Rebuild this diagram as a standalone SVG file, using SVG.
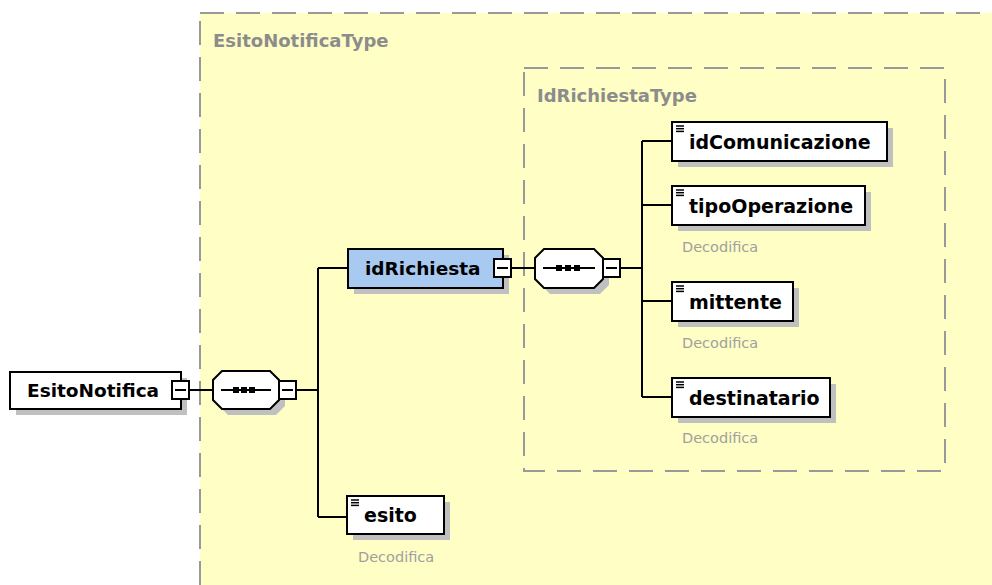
<svg xmlns="http://www.w3.org/2000/svg" width="992" height="585" viewBox="0 0 992 585">
<style>
.bg{fill:#ffffff}
.type{fill:#fffec4;stroke:#999999;stroke-width:2;stroke-dasharray:24 12}
.tlabel{font-family:"DejaVu Sans",sans-serif;font-weight:bold;font-size:18px;fill:#8c8c8c}
.shadow{fill:#c0c0c0}
.box{fill:#ffffff;stroke:#000000;stroke-width:2}
.boxsel{fill:#a8c9f0;stroke:#000000;stroke-width:2}
.name{font-family:"DejaVu Sans",sans-serif;font-weight:bold;font-size:18.5px;fill:#000000}
.cname{font-family:"DejaVu Sans",sans-serif;font-weight:bold;font-size:19px;fill:#000000}
.ann{font-family:"DejaVu Sans",sans-serif;font-size:14.5px;fill:#a0a0a0}
.line{fill:none;stroke:#000000;stroke-width:2}
.mbox{fill:#ffffff;stroke:#000000;stroke-width:2}
.mline{stroke:#000000;stroke-width:2}
.dot{fill:#000000}
.icon{stroke:#000000;stroke-width:1.5}
</style>
<defs>
<g id="leaficon">
<line class="icon" x1="0" y1="0" x2="8" y2="0"/>
<line class="icon" x1="0" y1="2.7" x2="8" y2="2.7"/>
<line class="icon" x1="0" y1="5.4" x2="8" y2="5.4"/>
</g>
</defs>
<rect class="bg" x="0" y="0" width="992" height="585"/>
<g id="EsitoNotificaType">
<rect class="type" x="200" y="13" width="820" height="600"/>
<text class="tlabel" x="213" y="47">EsitoNotificaType</text>
</g>
<g id="IdRichiestaType">
<rect class="type" x="524" y="68" width="421" height="403"/>
<text class="tlabel" x="537" y="102">IdRichiestaType</text>
</g>
<g id="connectors">
<line class="line" x1="189" y1="390" x2="213" y2="390"/>
<path class="line" d="M296,390 H318 M318,268 V517 M318,268 H348 M318,517 H347"/>
<line class="line" x1="511" y1="268" x2="535" y2="268"/>
<path class="line" d="M620,268 H642 M642,141 V397 M642,141 H672 M642,205 H672 M642,301 H672 M642,397 H672"/>
</g>
<g id="EsitoNotifica">
<rect class="shadow" x="16" y="378" width="171" height="37"/>
<rect class="box" x="10" y="372" width="171" height="37"/>
<text class="name" x="27" y="397">EsitoNotifica</text>
<rect class="mbox" x="172" y="381" width="17" height="18"/>
<line class="mline" x1="175" y1="390" x2="186" y2="390"/>
</g>
<g id="sequence1">
<path class="shadow" d="M228,377 L276,377 L285,386 L285,406 L276,415 L228,415 L219,406 L219,386 Z"/>
<path class="box" d="M222,371 L270,371 L279,380 L279,400 L270,409 L222,409 L213,400 L213,380 Z"/>
<line class="mline" x1="221" y1="390" x2="271" y2="390"/>
<rect class="dot" x="233" y="387" width="6" height="6"/>
<rect class="dot" x="241" y="387" width="6" height="6"/>
<rect class="dot" x="249" y="387" width="6" height="6"/>
<rect class="mbox" x="279" y="381" width="17" height="18"/>
<line class="mline" x1="282" y1="390" x2="293" y2="390"/>
</g>
<g id="idRichiesta">
<rect class="shadow" x="354" y="255" width="155" height="39"/>
<rect class="boxsel" x="348" y="249" width="155" height="39"/>
<text class="name" x="365" y="275">idRichiesta</text>
<rect class="mbox" x="494" y="259" width="17" height="18"/>
<line class="mline" x1="497" y1="268" x2="508" y2="268"/>
</g>
<g id="sequence2">
<path class="shadow" d="M550,255 L600,255 L609,264 L609,285 L600,294 L550,294 L541,285 L541,264 Z"/>
<path class="box" d="M544,249 L594,249 L603,258 L603,279 L594,288 L544,288 L535,279 L535,258 Z"/>
<line class="mline" x1="543" y1="268" x2="595" y2="268"/>
<rect class="dot" x="556" y="265" width="6" height="6"/>
<rect class="dot" x="565" y="265" width="6" height="6"/>
<rect class="dot" x="574" y="265" width="6" height="6"/>
<rect class="mbox" x="603" y="259" width="17" height="18"/>
<line class="mline" x1="606" y1="268" x2="617" y2="268"/>
</g>
<g id="idComunicazione">
<rect class="shadow" x="678" y="128" width="215" height="39"/>
<rect class="box" x="672" y="122" width="215" height="39"/>
<use href="#leaficon" x="676" y="126"/>
<text class="cname" x="689" y="149">idComunicazione</text>
</g>
<g id="tipoOperazione">
<rect class="shadow" x="678" y="192" width="193" height="39"/>
<rect class="box" x="672" y="186" width="193" height="39"/>
<use href="#leaficon" x="676" y="190"/>
<text class="cname" x="689" y="213">tipoOperazione</text>
<text class="ann" x="682" y="252">Decodifica</text>
</g>
<g id="mittente">
<rect class="shadow" x="678" y="288" width="121" height="39"/>
<rect class="box" x="672" y="282" width="121" height="39"/>
<use href="#leaficon" x="676" y="286"/>
<text class="cname" x="689" y="309">mittente</text>
<text class="ann" x="682" y="348">Decodifica</text>
</g>
<g id="destinatario">
<rect class="shadow" x="678" y="384" width="158" height="39"/>
<rect class="box" x="672" y="378" width="158" height="39"/>
<use href="#leaficon" x="676" y="382"/>
<text class="cname" x="689" y="405">destinatario</text>
<text class="ann" x="682" y="443">Decodifica</text>
</g>
<g id="esito">
<rect class="shadow" x="353" y="502" width="97" height="38"/>
<rect class="box" x="347" y="496" width="97" height="38"/>
<use href="#leaficon" x="351" y="500"/>
<text class="cname" x="364" y="522">esito</text>
<text class="ann" x="358" y="562">Decodifica</text>
</g>
</svg>
